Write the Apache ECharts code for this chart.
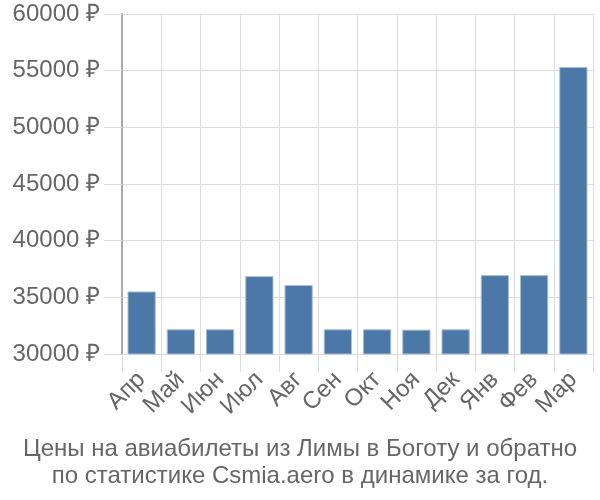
<!DOCTYPE html>
<html><head><meta charset="utf-8">
<script src="https://cdn.jsdelivr.net/npm/echarts@6/dist/echarts.min.js"></script>
<style>html,body{margin:0;padding:0;background:#fff}#c{width:600px;height:500px}</style>
</head><body><div id="c"></div>
<script>
var categories = ["Апр","Май","Июн","Июл","Авг","Сен","Окт","Ноя","Дек","Янв","Фев","Мар"];
var prices = [35520, 32180, 32180, 36870, 36080, 32180, 32180, 32150, 32180, 36960, 36960, 55330];
var yTicks = [30000, 35000, 40000, 45000, 50000, 55000, 60000];
var titleLines = ["Цены на авиабилеты из Лимы в Боготу и обратно", "по статистике Csmia.aero в динамике за год."];

var chart = echarts.init(document.getElementById('c'), null, {renderer:'canvas'});
chart.setOption({
  animation:false,
  textStyle:{fontFamily:'Liberation Sans, Arial, sans-serif'},
  title:{
    text: titleLines.join('\n'),
    left:'center', top:431,
    textStyle:{fontSize:24, fontWeight:'normal', color:'#666', lineHeight:27, fontFamily:'Liberation Sans, Arial, sans-serif'}
  },
  grid:{left:122, right:7, top:14, bottom:146, containLabel:false},
  xAxis:{
    type:'category', data:categories,
    axisLine:{show:true, lineStyle:{color:'#ddd', width:1}},
    axisTick:{show:true, length:18, lineStyle:{color:'#ddd'}},
    splitLine:{show:true, lineStyle:{color:'#ddd'}},
    axisLabel:{rotate:45, fontSize:24, color:'#666', margin:22, interval:0}
  },
  yAxis:{
    type:'value', min:yTicks[0], max:yTicks[yTicks.length-1], interval:5000,
    axisLine:{show:true, lineStyle:{color:'#aaa', width:2}},
    axisTick:{show:true, length:18, lineStyle:{color:'#ddd'}},
    splitLine:{show:true, lineStyle:{color:'#ddd'}},
    axisLabel:{fontSize:24, color:'#666', margin:22, formatter:function(v){return v+' ₽';}}
  },
  series:[{
    type:'bar', data:prices, barCategoryGap:'28%',
    itemStyle:{color:'#4c78a8', borderColor:'#a9bfd8', borderWidth:1}
  }]
});
</script></body></html>
